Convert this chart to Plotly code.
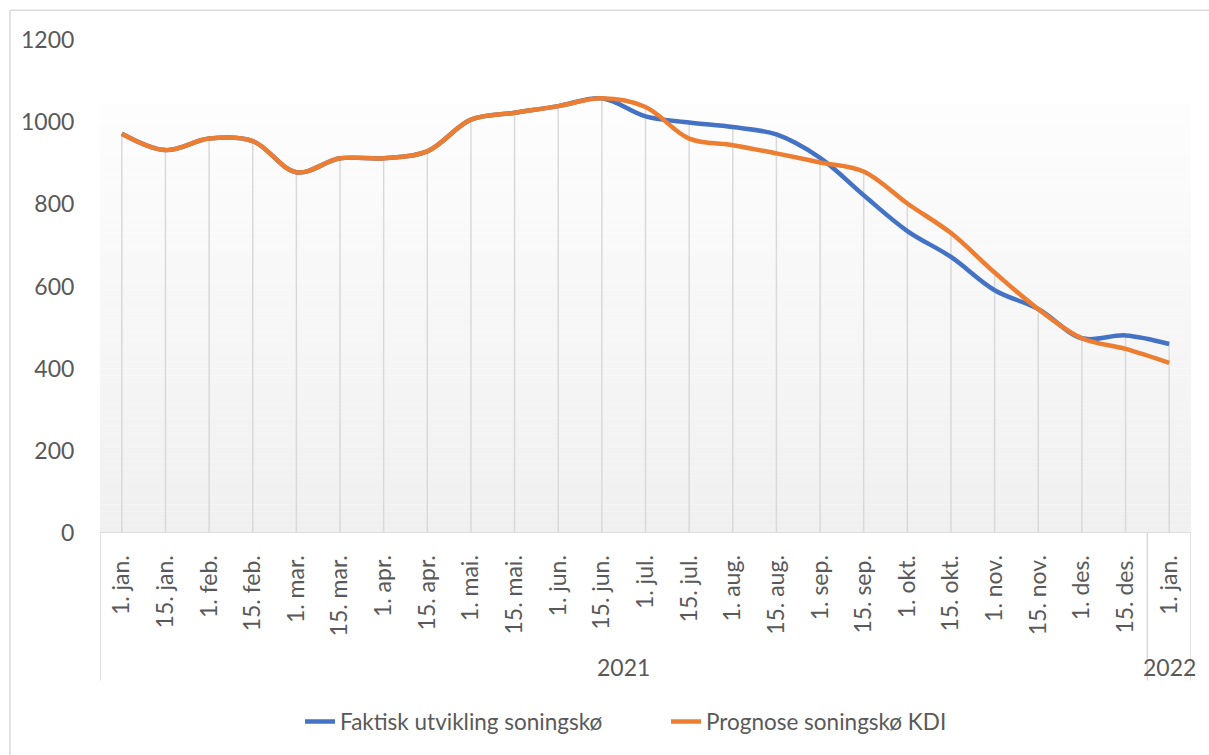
import plotly.graph_objects as go

# Categories (half-monthly dates) and their year groups
categories = ["1. jan.", "15. jan.", "1. feb.", "15. feb.", "1. mar.", "15. mar.",
              "1. apr.", "15. apr.", "1. mai.", "15. mai.", "1. jun.", "15. jun.",
              "1. jul.", "15. jul.", "1. aug.", "15. aug.", "1. sep.", "15. sep.",
              "1. okt.", "15. okt.", "1. nov.", "15. nov.", "1. des.", "15. des.",
              "1. jan."]
years = ["2021", "2022"]
year_counts = [24, 1]

faktisk = [972, 932, 960, 954, 878, 912, 912, 929, 1006, 1023, 1039, 1058,
           1014, 999, 988, 970, 913, 822, 735, 672, 591, 545, 474, 481, 460]
prognose = [972, 932, 960, 954, 878, 912, 912, 929, 1006, 1023, 1039, 1058,
            1037, 960, 944, 924, 902, 880, 802, 730, 634, 545, 474, 448, 414]

y_ticks = [0, 200, 400, 600, 800, 1000, 1200]

BLUE = "#4472C4"
ORANGE = "#ED7D31"
TEXT = "#595959"
GRID = "#D9D9D9"
FONT = "Lato"
FS = 23
LEG_FS = 22.5

x = list(range(len(categories)))
n = len(categories)

fig = go.Figure()

# Drop lines from the highest point at each category down to the axis
dx, dy = [], []
for i in x:
    dx += [i, i, None]
    dy += [0, max(faktisk[i], prognose[i]), None]
fig.add_trace(go.Scatter(x=dx, y=dy, mode="lines",
                         line=dict(color=GRID, width=1.5),
                         hoverinfo="skip", showlegend=False))

fig.add_trace(go.Scatter(x=x, y=faktisk, mode="lines",
                         name="Faktisk utvikling soningskø",
                         line=dict(color=BLUE, width=4.5, shape="spline", smoothing=1)))
fig.add_trace(go.Scatter(x=x, y=prognose, mode="lines",
                         name="Prognose soningskø KDI",
                         line=dict(color=ORANGE, width=4.5, shape="spline", smoothing=1)))

shapes = []
# Plot-area vertical gradient (light gray at the bottom fading to white)
bands = 60
top_val = 1045
for k in range(bands):
    y0 = top_val * k / bands
    y1 = top_val * (k + 1) / bands
    t = k / (bands - 1)
    c = int(round(0xF0 + (0xFD - 0xF0) * t))
    shapes.append(dict(type="rect", xref="x", yref="y", x0=-0.5, x1=n - 0.5,
                       y0=y0, y1=y1, fillcolor=f"rgb({c},{c},{c})",
                       line=dict(width=0), layer="below"))

# Category axis line and group separators
plot_h = 755 - 40 - 217
sep_bottom = (538 - 687) / plot_h
shapes.append(dict(type="line", xref="x", yref="y", x0=-0.5, x1=n - 0.5, y0=0, y1=0,
                   line=dict(color=GRID, width=1.5)))
edges = [-0.5]
for c in year_counts:
    edges.append(edges[-1] + c)
for e in edges:
    shapes.append(dict(type="line", xref="x", yref="paper", x0=e, x1=e,
                       y0=0, y1=sep_bottom, line=dict(color=GRID, width=1.5)))

# Chart border (top and left edges)
shapes.append(dict(type="line", xref="paper", yref="paper",
                   x0=(10 - 100) / 1091, x1=1.2, y0=(538 - 10) / plot_h, y1=(538 - 10) / plot_h,
                   line=dict(color=GRID, width=1.5)))
shapes.append(dict(type="line", xref="paper", yref="paper",
                   x0=(10 - 100) / 1091, x1=(10 - 100) / 1091,
                   y0=(538 - 10) / plot_h, y1=-0.5,
                   line=dict(color=GRID, width=1.5)))

annotations = []
year_y = (538 - 673) / plot_h
for yr, e0, e1 in zip(years, edges[:-1], edges[1:]):
    annotations.append(dict(text=yr, xref="x", yref="paper", x=(e0 + e1) / 2, y=year_y,
                            showarrow=False, font=dict(family=FONT, size=FS, color=TEXT),
                            xanchor="center", yanchor="middle"))

fig.update_layout(
    width=1209, height=755,
    margin=dict(l=100, r=18, t=40, b=217),
    paper_bgcolor="white", plot_bgcolor="white",
    font=dict(family=FONT, size=FS, color=TEXT),
    shapes=shapes, annotations=annotations,
    showlegend=True,
    legend=dict(orientation="h", x=(300 - 100) / 1091, xanchor="left",
                y=(538 - 707) / plot_h, yanchor="top",
                font=dict(family=FONT, size=LEG_FS, color=TEXT),
                entrywidth=321, entrywidthmode="pixels",
                itemwidth=30, bgcolor="rgba(0,0,0,0)"),
)

fig.update_xaxes(range=[-0.5, n - 0.5], tickmode="array", tickvals=x, ticktext=categories,
                 tickangle=-90, ticks="outside", ticklen=12, tickcolor="rgba(0,0,0,0)",
                 showgrid=False, zeroline=False, showline=False,
                 tickfont=dict(family=FONT, size=FS, color=TEXT))
fig.update_yaxes(range=[0, 1200], tickmode="array", tickvals=y_ticks,
                 ticks="outside", ticklen=20, tickcolor="rgba(0,0,0,0)",
                 showgrid=False, zeroline=False, showline=False,
                 tickfont=dict(family=FONT, size=FS, color=TEXT))

fig.write_html("out.html")
